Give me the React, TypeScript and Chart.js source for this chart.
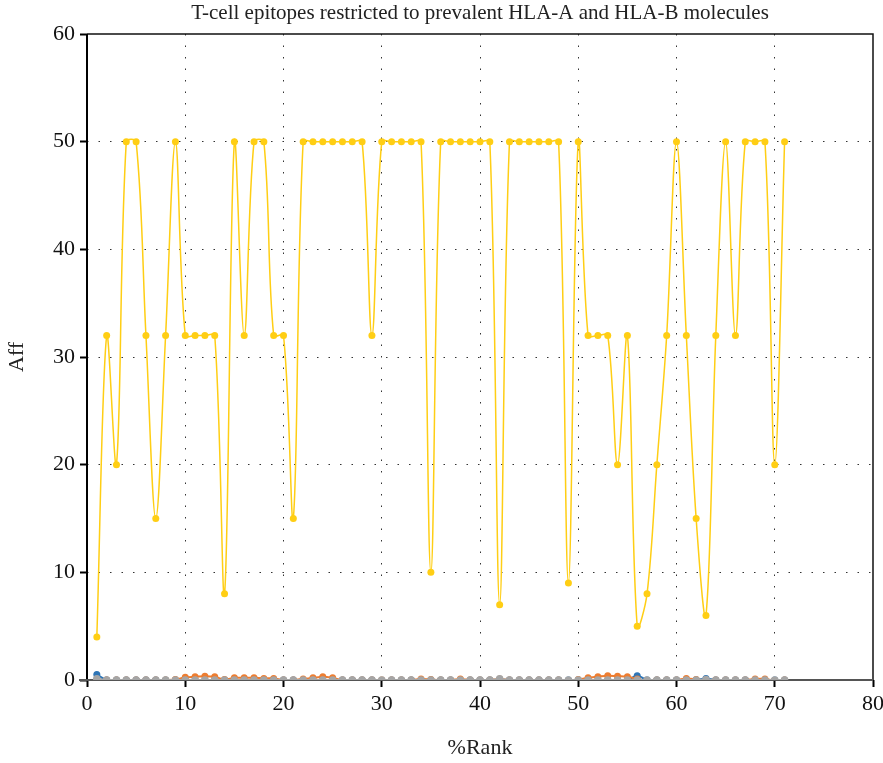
import React, { useEffect, useRef } from 'react';
import { Chart, registerables } from 'chart.js';

Chart.register(...registerables);

const TITLE = 'T-cell epitopes restricted to prevalent HLA-A and HLA-B molecules';
const X_TITLE = '%Rank';
const Y_TITLE = 'Aff';

const rank = [
  1, 2, 3, 4, 5, 6, 7, 8, 9, 10,
  11, 12, 13, 14, 15, 16, 17, 18, 19, 20,
  21, 22, 23, 24, 25, 26, 27, 28, 29, 30,
  31, 32, 33, 34, 35, 36, 37, 38, 39, 40,
  41, 42, 43, 44, 45, 46, 47, 48, 49, 50,
  51, 52, 53, 54, 55, 56, 57, 58, 59, 60,
  61, 62, 63, 64, 65, 66, 67, 68, 69, 70,
  71,
];

const affYellow = [
  4, 32, 20, 50, 50, 32, 15, 32, 50, 32,
  32, 32, 32, 8, 50, 32, 50, 50, 32, 32,
  15, 50, 50, 50, 50, 50, 50, 50, 32, 50,
  50, 50, 50, 50, 10, 50, 50, 50, 50, 50,
  50, 7, 50, 50, 50, 50, 50, 50, 9, 50,
  32, 32, 32, 20, 32, 5, 8, 20, 32, 50,
  32, 15, 6, 32, 50, 32, 50, 50, 50, 20,
  50,
];

const affBlue = [
  0.5, 0, 0, 0, 0, 0, 0, 0, 0, 0,
  0, 0, 0, 0, 0, 0, 0, 0, 0, 0,
  0, 0, 0, 0, 0, 0, 0, 0, 0, -0.1,
  0, 0, 0, 0, 0, 0, 0, 0, 0, 0,
  0, -0.1, 0, 0, 0, 0, 0, 0, 0, 0,
  0, 0, 0, 0, 0, 0.4, 0, 0, 0, 0,
  0, 0, 0.15, 0, 0, 0, 0, 0, 0, 0,
  0,
];

const affOrange = [
  -0.05, 0, 0, 0, 0, 0, 0, 0, 0.05, 0.25,
  0.3, 0.35, 0.3, 0.05, 0.2, 0.2, 0.2, 0.15, 0.15, 0,
  0, 0.1, 0.2, 0.3, 0.2, 0, 0, 0, 0, 0,
  0, 0, 0, 0.1, 0.05, 0, 0, 0.1, 0, 0,
  0, 0.1, 0, 0, 0, 0, 0, 0, -0.1, 0.05,
  0.2, 0.3, 0.4, 0.35, 0.3, 0.1, -0.1, 0, 0, 0,
  0.15, 0.05, -0.1, 0, 0, 0, 0, 0.1, 0.1, -0.05,
  0,
];

const affGray = [
  0.1, 0, 0, 0, 0, 0, 0, 0, 0, 0,
  0, 0, 0, 0, 0, 0, 0, 0, 0, 0,
  0, 0, 0, 0, 0, 0, 0, 0, 0, 0,
  0, 0, 0, 0, 0, 0, 0, 0, 0, 0,
  0, 0.1, 0, 0, 0, 0, 0, 0, 0, 0,
  0, 0, 0, 0, 0, 0, 0, 0, 0, 0,
  0, 0, 0.05, 0, 0, 0, 0, 0, 0, 0,
  0,
];

const X_MIN = 0;
const X_MAX = 80;
const Y_MIN = 0;
const Y_MAX = 60;
const STEP = 10;

const SERIF = '"Liberation Serif", "DejaVu Serif", serif';

export default function App() {
  const ref = useRef<HTMLCanvasElement>(null);

  useEffect(() => {
    document.body.style.margin = '0';
    const canvas = ref.current;
    if (!canvas) return;
    const pts = (ys: number[]) => rank.map((x, i) => ({ x, y: ys[i] }));

    const framePlugin = {
      id: 'frame',
      beforeDatasetsDraw(chart: any) {
        const { ctx, chartArea } = chart;
        const { left, right, top, bottom } = chartArea;
        ctx.save();
        ctx.setLineDash([]);
        ctx.strokeStyle = '#111';
        ctx.lineWidth = 1.5;
        ctx.beginPath();
        ctx.moveTo(left, top);
        ctx.lineTo(right, top);
        ctx.lineTo(right, bottom);
        ctx.stroke();
        ctx.lineWidth = 2;
        ctx.strokeStyle = '#000';
        ctx.beginPath();
        ctx.moveTo(left, top);
        ctx.lineTo(left, bottom + 1);
        ctx.stroke();
        ctx.strokeStyle = '#555';
        ctx.beginPath();
        ctx.moveTo(left - 8, bottom);
        ctx.lineTo(right, bottom);
        ctx.stroke();
        ctx.restore();
      },
      afterDraw(chart: any) {
        const { ctx, chartArea } = chart;
        ctx.save();
        ctx.fillStyle = '#222';
        ctx.font = `21px ${SERIF}`;
        ctx.textAlign = 'center';
        ctx.textBaseline = 'middle';
        ctx.fillText(TITLE, (chartArea.left + chartArea.right) / 2, 13);
        ctx.restore();
      },
    };

    const chart = new Chart(canvas, {
      type: 'line',
      data: {
        datasets: [
          {
            data: pts(affYellow),
            borderColor: '#FFCE14',
            backgroundColor: '#FFCE14',
            borderWidth: 1.5,
            pointRadius: 3.5,
            pointBorderWidth: 0,
            tension: 0.35,
          },
          {
            data: pts(affGray),
            borderColor: '#A5A5A5',
            backgroundColor: '#A5A5A5',
            borderWidth: 2,
            pointRadius: 3.8,
            pointBorderWidth: 0,
            tension: 0.35,
          },
          {
            data: pts(affOrange),
            borderColor: '#ED7D31',
            backgroundColor: '#ED7D31',
            borderWidth: 2,
            pointRadius: 3.5,
            pointBorderWidth: 0,
            tension: 0.35,
          },
          {
            data: pts(affBlue),
            borderColor: '#2E75B6',
            backgroundColor: '#2E75B6',
            borderWidth: 2,
            pointRadius: 3.5,
            pointBorderWidth: 0,
            tension: 0.35,
          },
        ],
      },
      options: {
        responsive: false,
        animation: false,
        layout: { padding: { top: 34, right: 10, left: 0, bottom: 0 } },
        plugins: {
          legend: { display: false },
          title: { display: false },
          tooltip: { enabled: false },
        },
        scales: {
          x: {
            type: 'linear',
            min: X_MIN,
            max: X_MAX,
            afterFit: (s: any) => {
              s.height = 83;
              s.paddingLeft = 0;
              s.paddingRight = 0;
            },
            ticks: {
              stepSize: STEP,
              color: '#111',
              font: { family: SERIF, size: 22 },
              padding: 4,
            },
            grid: {
              color: (c: any) =>
                c.tick && (c.tick.value === X_MIN || c.tick.value === X_MAX) ? 'rgba(0,0,0,0)' : '#333',
              lineWidth: 1,
              tickLength: 7,
              tickColor: '#000',
              tickWidth: 2,
              tickBorderDash: [],
            },
            border: { display: false, dash: [1.5, 10] },
            title: {
              display: true,
              text: X_TITLE,
              color: '#222',
              font: { family: SERIF, size: 22 },
              padding: { top: 0, bottom: 2 },
            },
          },
          y: {
            type: 'linear',
            min: Y_MIN,
            max: Y_MAX,
            afterFit: (s: any) => {
              s.width = 87;
            },
            ticks: {
              stepSize: STEP,
              color: '#111',
              font: { family: SERIF, size: 22 },
              padding: 5,
            },
            grid: {
              color: (c: any) =>
                c.tick && (c.tick.value === Y_MIN || c.tick.value === Y_MAX) ? 'rgba(0,0,0,0)' : '#333',
              lineWidth: 1,
              tickLength: 7,
              tickColor: '#000',
              tickWidth: 2,
              tickBorderDash: [],
            },
            border: { display: false, dash: [1.5, 10] },
            title: {
              display: true,
              text: Y_TITLE,
              color: '#222',
              font: { family: SERIF, size: 22 },
              padding: { top: 4, bottom: 0 },
            },
          },
        },
      },
      plugins: [framePlugin],
    } as any);

    return () => chart.destroy();
  }, []);

  return (
    <div style={{ width: 883, height: 763, position: 'relative' }}>
      <canvas ref={ref} width={883} height={763} style={{ width: 883, height: 763, display: 'block' }} />
    </div>
  );
}
